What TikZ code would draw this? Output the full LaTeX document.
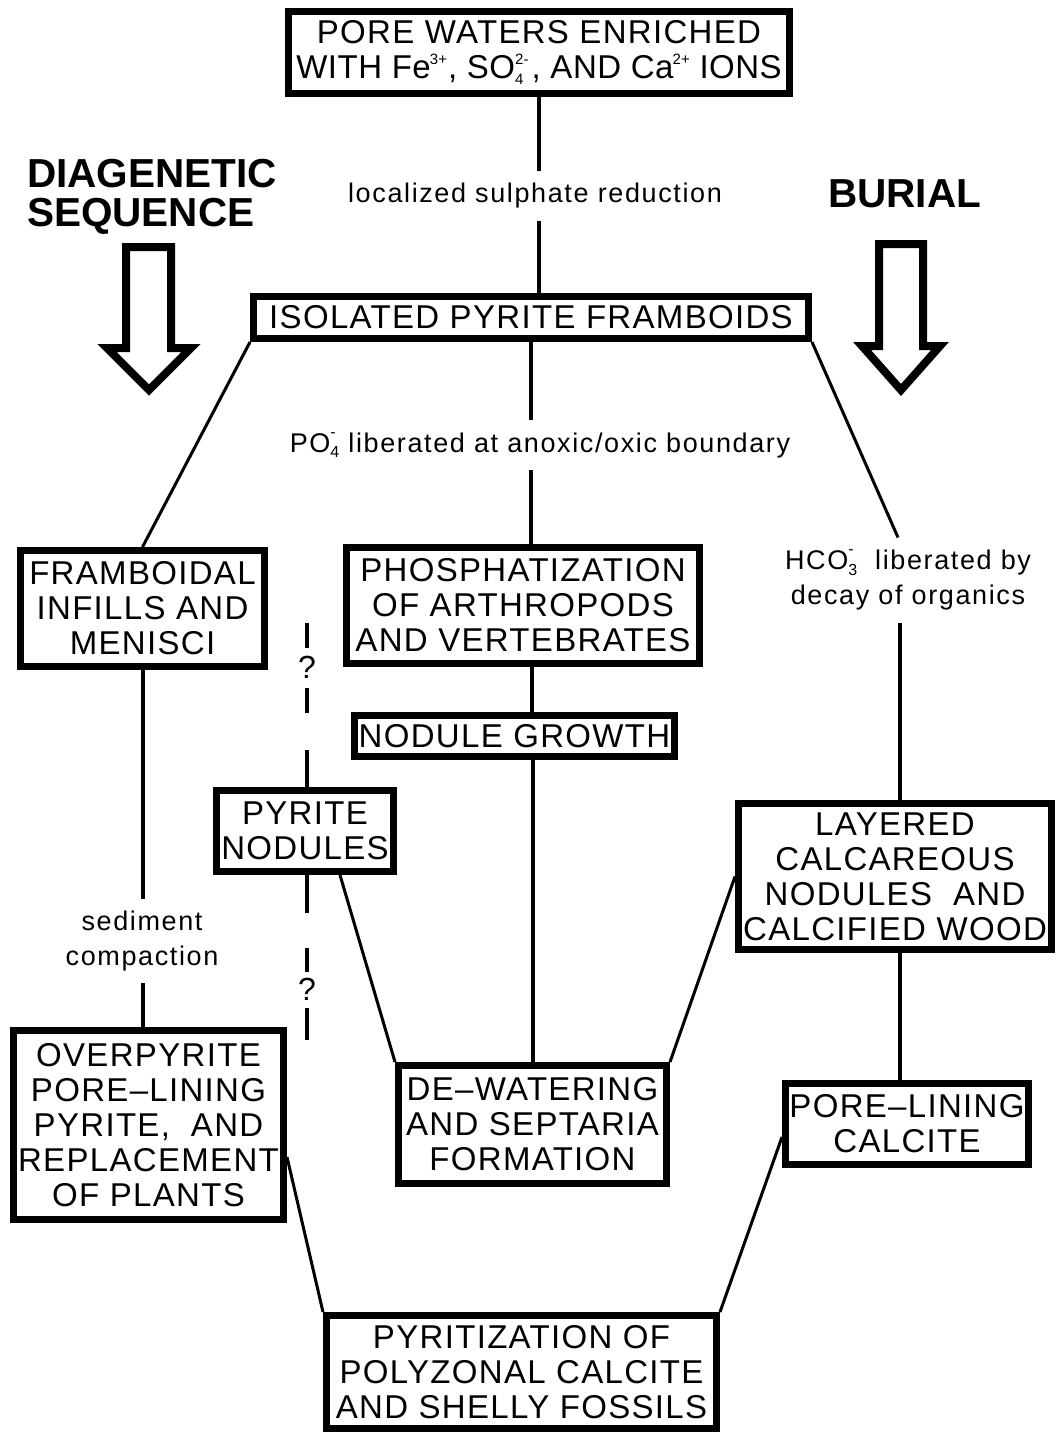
\documentclass[tikz,border=0pt]{standalone}
\usepackage{fontspec}
\setmainfont{Liberation Sans}
\newfontfamily\bxfont[LetterSpace=4]{Liberation Sans}
\newfontfamily\bxtight[LetterSpace=1.5]{Liberation Sans}
\newfontfamily\lbfont[LetterSpace=6]{Liberation Sans}
\usetikzlibrary{calc}
\newcommand\supsub[3]{\mbox{\fontsize{#1}{#1}\selectfont\setbox0\hbox{#2}\setbox2\hbox{#3}%
 \ifdim\wd0>\wd2 \dimen0=\wd0 \else\dimen0=\wd2\fi
 \rlap{\raise0.95em\box0}\rlap{\lower0.35em\box2}\hspace{\dimen0}}}
\tikzset{
 box/.style={draw, line width=7pt, rectangle, inner sep=0pt, align=center,
   font=\bxfont\fontsize{33}{35}\selectfont},
 lab/.style={inner xsep=0pt, inner ysep=12pt, align=center,
   font=\lbfont\fontsize{27}{35}\selectfont},
 conn/.style={line width=4pt},
 diag/.style={line width=3pt},
 qdash/.style={line width=4pt},
 qmark/.style={inner sep=0pt, font=\fontsize{32}{32}\selectfont},
 bigarrow/.style={line width=8pt, line join=miter},
 ttl/.style={inner sep=0pt, anchor=base west, font=\bfseries\fontsize{40.5}{40}\selectfont},
}
\begin{document}
\begin{tikzpicture}[x=1pt,y=-1pt]
\useasboundingbox (0,0) rectangle (1055,1432);

% boxes
\node[box, minimum width=501pt, minimum height=82pt] (top) at (539,52.5)
 {PORE WATERS ENRICHED\\{\bxtight WITH Fe\kern-1pt\supsub{15}{3+}{}\kern1pt, SO\supsub{15}{2-}{4}\kern3pt, AND Ca\kern-1pt\supsub{15}{2+}{} IONS}};
\node[box, minimum width=555pt, minimum height=42pt] (iso) at (531,317.5) {ISOLATED PYRITE FRAMBOIDS};
\node[box, minimum width=244pt, minimum height=116pt] (fram) at (142.5,608.5) {FRAMBOIDAL\\INFILLS AND\\MENISCI};
\node[box, minimum width=353pt, minimum height=116pt] (phos) at (523,605.5) {PHOSPHATIZATION\\OF ARTHROPODS\\AND VERTEBRATES};
\node[box, minimum width=320pt, minimum height=41pt] (nod) at (514.5,736) {NODULE GROWTH};
\node[box, minimum width=177pt, minimum height=81pt] (pyr) at (305,831) {PYRITE\\NODULES};
\node[box, minimum width=313pt, minimum height=146pt] (lay) at (895,876.5) {LAYERED\\CALCAREOUS\\NODULES\ \ AND\\CALCIFIED WOOD};
\node[box, minimum width=270pt, minimum height=189pt] (over) at (148.5,1125) {OVERPYRITE\\PORE–LINING\\PYRITE,\ \ AND\\REPLACEMENT\\OF PLANTS};
\node[box, minimum width=268pt, minimum height=118pt] (dew) at (532.5,1124.5) {DE–WATERING\\AND SEPTARIA\\FORMATION};
\node[box, minimum width=243pt, minimum height=81pt] (pore) at (907,1124) {PORE–LINING\\CALCITE};
\node[box, minimum width=390pt, minimum height=113pt] (pyz) at (521.5,1372) {PYRITIZATION OF\\POLYZONAL CALCITE\\AND SHELLY FOSSILS};

% labels
\node[lab] (lab1) at (535,196) {localized sulphate reduction};
\node[lab] (lab2) at (540,445) {PO\supsub{16}{-}{4}\ liberated at anoxic/oxic boundary};
\node[lab] (lab3) at (908,580) {HCO\supsub{16}{-}{3}\hspace{18pt}liberated by\\decay of organics};
\node[lab] (lab4) at (142,941) {sediment\\compaction};

% titles
\node[ttl] (t1) at (27,187) {DIAGENETIC};
\node[ttl] (t2) at (27,226) {SEQUENCE};
\node[ttl] (t3) at (828,207) {BURIAL};

% big arrows
\draw[bigarrow] (126,247) -- (171,247) -- (171,348) -- (191,348) -- (149,390) -- (107,348) -- (126,348) -- cycle;
\draw[bigarrow] (879,244) -- (923,244) -- (923,346) -- (940,346) -- (901,390) -- (862,346) -- (879,346) -- cycle;

% vertical connectors
\draw[conn] (top.south) -- (top.south |- lab1.north);
\draw[conn] (lab1.south -| top.south) -- (iso.north -| top.south);
\draw[conn] (iso.south) -- (iso.south |- lab2.north);
\draw[conn] (lab2.south -| iso.south) -- (phos.north -| iso.south);
\draw[conn] ($(phos.south)+(9,0)$) -- ($(phos.south |- nod.north)+(9,0)$);
\draw[conn] (dew.north) -- (dew.north |- nod.south);
\draw[conn] (fram.south) -- (fram.south |- lab4.north);
\draw[conn] (lab4.south -| fram.south) -- (over.north -| fram.south);
\draw[conn] ($(lay.north)+(5,0)$) -- ($(lay.north |- lab3.south)+(5,0)$);
\draw[conn] ($(lay.south)+(5,0)$) -- ($(lay.south |- pore.north)+(5,0)$);

% diagonal connectors
\draw[diag] (iso.south west) -- (fram.north);
\draw[diag] (iso.south east) -- ($(lab3.north)+(-10,0)$);
\draw[diag] ($(pyr.south)+(35,0)$) -- (dew.north west);
\draw[diag] (lay.west) -- (dew.north east);
\draw[diag] ($(over.east)+(0,32)$) -- (pyz.north west);
\draw[diag] ($(pore.west)+(0,13)$) -- (pyz.north east);

% uncertain link (pyrite nodules)
\coordinate (d1) at (307,623);
\coordinate (d2) at (307,648);
\coordinate (d3) at (307,688);
\coordinate (d4) at (307,713);
\coordinate (d5) at (307,750);
\coordinate (d6) at (307,913);
\coordinate (d7) at (307,948);
\coordinate (d8) at (307,972);
\coordinate (d9) at (307,1008);
\coordinate (d10) at (307,1040);
\node[qmark] (q1) at (307,667) {?};
\node[qmark] (q2) at (307,989) {?};
\draw[qdash] (d1) -- (d2);
\draw[qdash] (d3) -- (d4);
\draw[qdash] (d5) -- (d5 |- pyr.north);
\draw[qdash] (d6 |- pyr.south) -- (d6);
\draw[qdash] (d7) -- (d8);
\draw[qdash] (d9) -- (d10);
\end{tikzpicture}
\end{document}
